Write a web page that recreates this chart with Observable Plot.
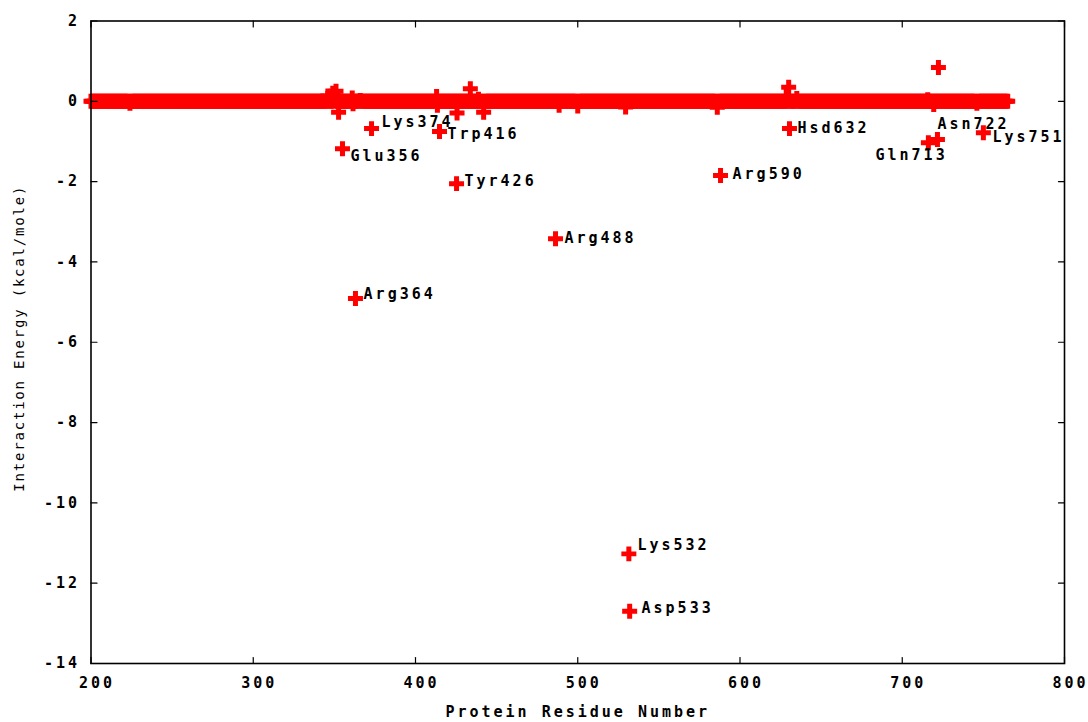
<!DOCTYPE html>
<html><head><meta charset="utf-8">
<script src="https://cdn.jsdelivr.net/npm/d3@7"></script>
<script src="https://cdn.jsdelivr.net/npm/@observablehq/plot@0.6"></script>
<style>
body{margin:0;background:#fff}
svg{font-family:"DejaVu Sans Mono",monospace}
</style>
</head><body><div id="chart"></div>
<script>
// protein residue chain shown on the x axis (first..last residue)
const chainFirst = 200, chainLast = 765;
// residues whose energy deviates slightly from 0 (the band near zero)
const smallResidue = [224, 346, 349, 351, 352.6, 361, 361.5, 366, 413, 413.5, 425.6, 433.8, 438.8, 442, 488.5, 500, 529.5, 586, 628.5, 630, 631, 635, 715.7, 719.4, 746];
const smallEnergy  = [-0.05, 0.13, 0.2, 0.25, -0.27, 0.08, -0.06, 0.02, 0.12, -0.1, -0.29, 0.31, 0.05, -0.27, -0.1, -0.12, -0.14, -0.15, 0.12, 0.35, 0.0, 0.07, 0.04, -0.08, -0.05];
// strongly interacting residues
const keyResidue = [355, 363, 372.9, 414.8, 425.3, 486.3, 531.5, 532, 588, 630.5, 716.1, 721.7, 722.3, 750];
const keyEnergy  = [-1.18, -4.91, -0.68, -0.75, -2.05, -3.42, -11.27, -12.70, -1.85, -0.68, -1.03, -0.95, 0.84, -0.78];
// annotations (gnuplot-style labels placed at data coordinates)
const labelText = ["Glu356", "Lys374", "Trp416", "Tyr426", "Arg364", "Arg488", "Lys532", "Asp533", "Arg590", "Hsd632", "Gln713", "Asn722", "Lys751"];
const labelX    = [359.9, 379.0, 419.7, 430.2, 368.0, 491.8, 536.8, 539.3, 595.4, 635.4, 683.5, 721.7, 755.6];
const labelY    = [-1.37, -0.53, -0.83, -2.00, -4.81, -3.42, -11.06, -12.63, -1.82, -0.68, -1.35, -0.58, -0.90];
const xTicks = [200, 300, 400, 500, 600, 700, 800];
const yTicks = [2, 0, -2, -4, -6, -8, -10, -12, -14];
const xTitle = "Protein Residue Number";
const yTitle = "Interaction Energy (kcal/mole)";

const small = new Map(smallResidue.map((r, i) => [r, smallEnergy[i]]));
const points = [];
for (let r = chainFirst; r <= chainLast; r++) points.push({r, e: small.has(r) ? small.get(r) : 0});
smallResidue.forEach((r, i) => { if (!Number.isInteger(r)) points.push({r, e: smallEnergy[i]}); });
keyResidue.forEach((r, i) => points.push({r, e: keyEnergy[i]}));
const labels = labelText.map((t, i) => ({t, x: labelX[i], y: labelY[i]}));

const tickShape = {draw(ctx, l) { ctx.moveTo(0, 0); ctx.lineTo(0, -l); }};
const fontStyle = {fontSize: 15, fontWeight: "bold", fill: "black"};

const chart = Plot.plot({
  width: 1088, height: 722,
  marginLeft: 90.5, marginRight: 24, marginTop: 20.5, marginBottom: 59,
  x: {domain: [200, 800], axis: null},
  y: {domain: [-14, 2], axis: null},
  style: {background: "white"},
  marks: [
    Plot.dot(points, {x: "r", y: "e", symbol: "cross", r: 6.3, fill: "#ff0000", stroke: "none"}),
    Plot.frame({stroke: "black", strokeWidth: 1.6}),
    Plot.vector(xTicks, {x: d => d, frameAnchor: "bottom", length: 6, rotate: 0, anchor: "start", shape: tickShape, stroke: "black", strokeWidth: 1.2}),
    Plot.vector(xTicks, {x: d => d, frameAnchor: "top", length: 6, rotate: 180, anchor: "start", shape: tickShape, stroke: "black", strokeWidth: 1.2}),
    Plot.vector(yTicks, {y: d => d, frameAnchor: "left", length: 6, rotate: 90, anchor: "start", shape: tickShape, stroke: "black", strokeWidth: 1.2}),
    Plot.vector(yTicks, {y: d => d, frameAnchor: "right", length: 6, rotate: -90, anchor: "start", shape: tickShape, stroke: "black", strokeWidth: 1.2}),
    Plot.text(xTicks, {x: d => d, text: d => String(d), frameAnchor: "bottom", dy: 20, dx: 6, textAnchor: "middle", lineAnchor: "middle", ...fontStyle}),
    Plot.text(yTicks, {y: d => d, text: d => String(d), frameAnchor: "left", dx: -11, textAnchor: "end", lineAnchor: "middle", ...fontStyle}),
    Plot.text([xTitle], {frameAnchor: "bottom", dy: 49, dx: 0, textAnchor: "middle", lineAnchor: "middle", text: d => d, ...fontStyle}),
    Plot.text([yTitle], {frameAnchor: "left", dx: -71, dy: -4, rotate: -90, textAnchor: "middle", lineAnchor: "middle", text: d => d, fontSize: 14, fill: "black"}),
    Plot.text(labels, {x: "x", y: "y", text: "t", textAnchor: "start", lineAnchor: "middle", ...fontStyle})
  ]
});
// gnuplot's wide pixel font: widen the glyph advance
d3.select(chart).selectAll("text").each(function() {
  this.style.letterSpacing = this.textContent === yTitle ? "1.8px" : "3px";
});
document.getElementById("chart").appendChild(chart);
</script>
</body></html>
